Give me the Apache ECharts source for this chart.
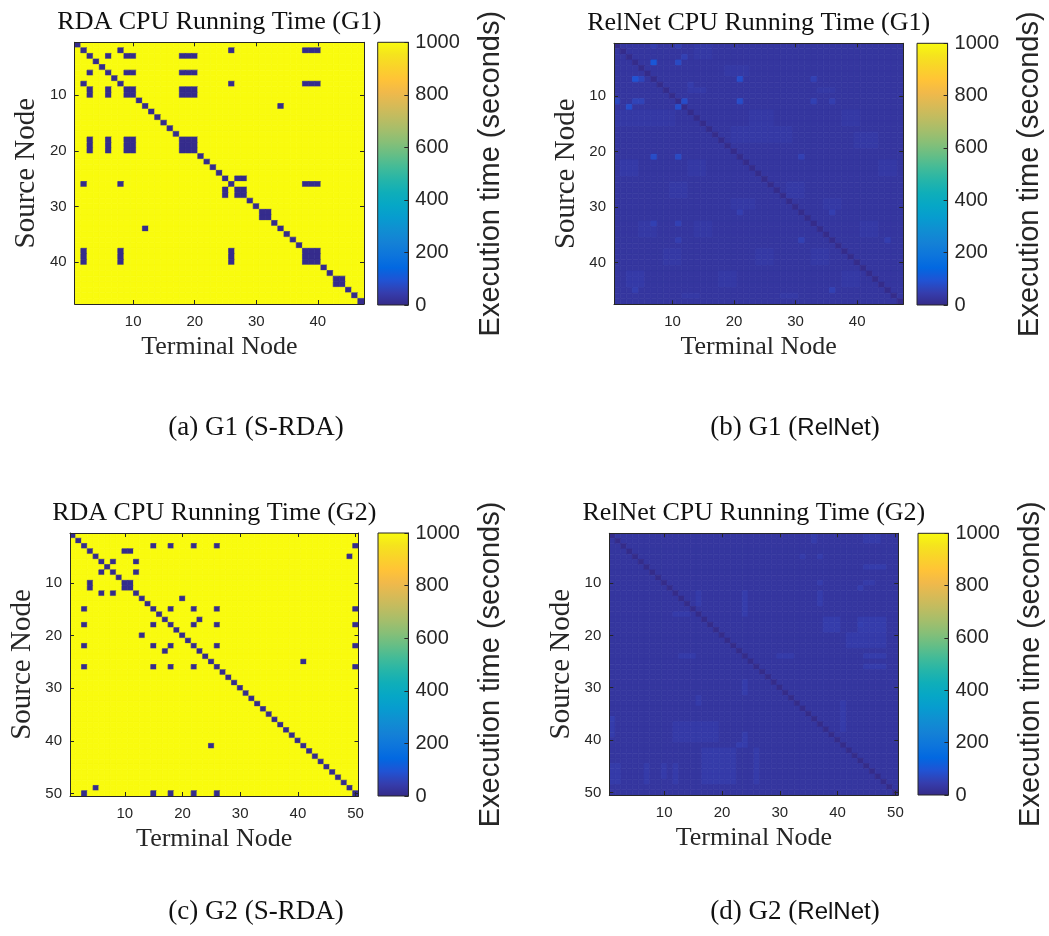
<!DOCTYPE html>
<html>
<head>
<meta charset="utf-8">
<script src="https://cdn.jsdelivr.net/npm/echarts@6/dist/echarts.min.js"></script>
<style>
  html, body { margin: 0; padding: 0; background: #ffffff; }
  #chart { width: 1049px; height: 936px; }
</style>
</head>
<body>
<div id="chart"></div>
<script>
// ---------------- data ----------------
const g1Nodes = 47;
const g2Nodes = 50;

// S-RDA: pairs either finish quickly or hit the 1000 s cap
const rdaTimeout = 1000;
const rdaFast = 6;
// node sets whose source/terminal pairs all finish quickly
const rdaG1FastGroups = [[2, 8, 26, 38, 39, 40], [3, 6, 9, 10, 18, 19, 20], [25, 27, 28], [12, 34], [31, 32], [43, 44]];
const rdaG2FastGroups = [[3, 15, 18, 22, 26, 50], [6, 8, 12], [4, 10, 11], [13, 20], [17, 23], [25, 41], [5, 49]];

// RelNet: typical time, time on the diagonal, slower blocks and single slow pairs
const relG1Base = 30;
const relG1Diag = 5;
// [rowFrom, rowTo, colFrom, colTo, seconds]
const relG1Blocks = [
  [1, 3, 14, 16, 38], [5, 6, 19, 22, 38], [9, 9, 13, 15, 40], [9, 9, 34, 36, 38],
  [13, 15, 1, 10, 38], [13, 15, 23, 26, 38], [13, 15, 38, 40, 38],
  [16, 18, 20, 29, 38], [17, 19, 40, 43, 38],
  [22, 24, 2, 4, 40], [22, 24, 13, 15, 38], [22, 24, 44, 46, 38],
  [26, 28, 10, 12, 38], [26, 28, 29, 31, 38], [29, 30, 20, 23, 38], [29, 30, 35, 37, 38],
  [33, 35, 5, 7, 38], [33, 35, 14, 16, 38], [33, 35, 41, 43, 38],
  [38, 40, 9, 11, 38], [38, 40, 24, 26, 38], [38, 40, 33, 35, 38],
  [42, 44, 3, 5, 40], [42, 44, 18, 20, 38], [42, 44, 38, 40, 38],
  [46, 46, 12, 14, 38], [46, 46, 28, 30, 38]
];
// [row, col, seconds]
const relG1Spots = [
  [4, 7, 105], [4, 11, 75], [1, 11, 50], [1, 7, 48], [3, 12, 55], [7, 4, 95], [7, 5, 65], [7, 21, 85],
  [7, 33, 55], [11, 1, 70], [11, 4, 60], [11, 5, 60], [11, 12, 80], [11, 21, 80], [11, 33, 55],
  [11, 36, 50], [12, 3, 85], [12, 11, 85], [21, 7, 80], [21, 11, 75], [21, 31, 55], [31, 21, 50],
  [31, 36, 50], [33, 7, 55], [33, 11, 55], [36, 11, 50], [36, 31, 55], [36, 45, 50], [45, 4, 50],
  [45, 36, 55], [8, 13, 45]
];

const relG2Base = 30;
const relG2Diag = 4;
const relG2Blocks = [
  [1, 2, 36, 36, 45], [1, 2, 45, 47, 42], [5, 5, 34, 34, 42], [5, 5, 37, 37, 45], [7, 7, 45, 48, 45],
  [10, 10, 37, 37, 45], [10, 10, 45, 46, 42], [12, 14, 37, 37, 45], [12, 14, 16, 16, 42],
  [12, 16, 24, 24, 45], [16, 16, 12, 14, 42], [17, 19, 38, 40, 45], [17, 19, 44, 48, 45],
  [20, 22, 42, 48, 42], [24, 24, 13, 15, 42], [24, 24, 30, 32, 42], [24, 24, 45, 48, 45],
  [26, 26, 45, 48, 45], [29, 31, 24, 24, 45], [32, 33, 16, 16, 42], [37, 40, 12, 19, 40],
  [39, 41, 24, 24, 45], [33, 38, 41, 41, 42], [42, 48, 17, 22, 42], [45, 48, 7, 7, 42],
  [45, 47, 10, 10, 42], [45, 48, 12, 12, 42], [42, 48, 26, 26, 42], [37, 39, 1, 1, 45],
  [45, 48, 1, 2, 42]
];
const relG2Spots = [[36, 1, 50], [41, 23, 48], [11, 44, 48], [18, 44, 50]];

const colorbarTicks = [0, 200, 400, 600, 800, 1000];

// ---------------- matrices ----------------
function rdaMatrix(n, groups) {
  const m = Array.from({ length: n }, () => Array(n).fill(rdaTimeout));
  for (let i = 0; i < n; i++) m[i][i] = rdaFast;
  groups.forEach(g => g.forEach(r => g.forEach(c => { m[r - 1][c - 1] = rdaFast; })));
  return m;
}
function relMatrix(n, base, diag, blocks, spots) {
  const m = Array.from({ length: n }, () => Array(n).fill(base));
  blocks.forEach(([r0, r1, c0, c1, v]) => {
    for (let r = r0; r <= r1; r++) for (let c = c0; c <= c1; c++) m[r - 1][c - 1] = v;
  });
  spots.forEach(([r, c, v]) => { m[r - 1][c - 1] = v; });
  for (let i = 0; i < n; i++) m[i][i] = diag;
  return m;
}
function cells(m) {
  const out = [];
  m.forEach((row, r) => row.forEach((v, c) => out.push([c, r, v])));
  return out;
}

// ---------------- styling ----------------
const parula = ['#352A87', '#353DAD', '#2053D4', '#0268E1', '#0D75DC', '#1481D6', '#108ED2', '#079CCF',
  '#06A7C6', '#0FAEB9', '#25B5A9', '#42BB98', '#65BE86', '#87BF77', '#A5BE6B', '#C0BC60', '#D9BA56',
  '#F1B94A', '#FFC337', '#FAD32A', '#F5E41D', '#F9FB0E'];
const AX = '#262626';
const SERIF = '"Liberation Serif", "Times New Roman", serif';
const SANS = '"Liberation Sans", Arial, sans-serif';

const panels = [
  { n: g1Nodes, m: rdaMatrix(g1Nodes, rdaG1FastGroups), title: 'RDA CPU Running Time (G1)',
    plot: { left: 74.7, top: 42.3, width: 289.3, height: 261.7 },
    cb: { left: 377.7, top: 42.3, width: 30.6, height: 262.7 },
    caption: { x: 256, y: 428, tag: '(a) G1 (', name: 'S-RDA', sf: false } },
  { n: g1Nodes, m: relMatrix(g1Nodes, relG1Base, relG1Diag, relG1Blocks, relG1Spots), title: 'RelNet CPU Running Time (G1)',
    plot: { left: 614, top: 43.3, width: 289.3, height: 261 },
    cb: { left: 917, top: 43.3, width: 30.6, height: 261.7 },
    caption: { x: 795, y: 428, tag: '(b) G1 (', name: 'RelNet', sf: true } },
  { n: g2Nodes, m: rdaMatrix(g2Nodes, rdaG2FastGroups), title: 'RDA CPU Running Time (G2)',
    plot: { left: 70, top: 533, width: 288.5, height: 263 },
    cb: { left: 378, top: 533, width: 30.4, height: 263 },
    caption: { x: 256, y: 912, tag: '(c) G2 (', name: 'S-RDA', sf: false } },
  { n: g2Nodes, m: relMatrix(g2Nodes, relG2Base, relG2Diag, relG2Blocks, relG2Spots), title: 'RelNet CPU Running Time (G2)',
    plot: { left: 609.3, top: 533.3, width: 289, height: 261.7 },
    cb: { left: 918, top: 533.3, width: 30.4, height: 261.7 },
    caption: { x: 795, y: 912, tag: '(d) G2 (', name: 'RelNet', sf: true } }
];

const option = {
  animation: false,
  backgroundColor: '#ffffff',
  grid: [], xAxis: [], yAxis: [], series: [], visualMap: [], graphic: []
};

const tickEvery10 = idx => (idx + 1) % 10 === 0;

// one image cell per data item, edges stroked in the cell colour so neighbours join seamlessly
function renderCell(params, api) {
  const p = api.coord([api.value(0), api.value(1)]);
  const s = api.size([1, 1]);
  const w = Math.abs(s[0]), h = Math.abs(s[1]);
  const col = api.visual('color');
  return {
    type: 'rect',
    shape: { x: p[0] - w / 2, y: p[1] - h / 2, width: w, height: h },
    style: { fill: col, stroke: col, lineWidth: 0.7 }
  };
}

panels.forEach((p) => {
  const cats = Array.from({ length: p.n }, (_, i) => String(i + 1));
  const gi = option.grid.length;
  option.grid.push({ left: p.plot.left, top: p.plot.top, width: p.plot.width, height: p.plot.height });
  option.grid.push({ left: p.cb.left, top: p.cb.top, width: p.cb.width, height: p.cb.height });

  const catAxis = (pos, labels) => ({
    type: 'category', gridIndex: gi, data: cats, position: pos, boundaryGap: true,
    inverse: pos === 'left' || pos === 'right',
    z: 5,
    axisLine: { show: true, onZero: false, lineStyle: { color: AX, width: 1 } },
    axisTick: { show: true, inside: true, length: 4, alignWithLabel: true, interval: tickEvery10, lineStyle: { color: AX } },
    axisLabel: labels ? { show: true, interval: tickEvery10, color: AX, fontFamily: SANS, fontSize: 15,
      margin: (pos === 'bottom') ? 10 : 8 } : { show: false },
    splitLine: { show: false }
  });

  const xi = option.xAxis.length;
  option.xAxis.push(catAxis('bottom', true));
  option.xAxis.push(catAxis('top', false));
  option.xAxis.push({ type: 'value', gridIndex: gi + 1, min: 0, max: 1, show: false });

  const yi = option.yAxis.length;
  option.yAxis.push(catAxis('left', true));
  option.yAxis.push(catAxis('right', false));
  option.yAxis.push({
    type: 'value', gridIndex: gi + 1, min: colorbarTicks[0], max: colorbarTicks[colorbarTicks.length - 1],
    interval: colorbarTicks[1] - colorbarTicks[0], position: 'right', z: 5,
    axisLine: { show: true, onZero: false, lineStyle: { color: AX, width: 1 } },
    axisTick: { show: true, inside: true, length: 4, lineStyle: { color: AX } },
    axisLabel: { color: AX, fontFamily: SANS, fontSize: 20, margin: 7, formatter: v => String(v) },
    splitLine: { show: false }
  });

  const si = option.series.length;
  option.series.push({
    type: 'custom', xAxisIndex: xi, yAxisIndex: yi, data: cells(p.m),
    encode: { x: 0, y: 1 }, renderItem: renderCell, clip: true, silent: true, progressive: 0
  });
  option.visualMap.push({
    type: 'continuous', show: false, min: 0, max: 1000, dimension: 2, seriesIndex: si,
    inRange: { color: parula }
  });
  option.series.push({
    type: 'custom', xAxisIndex: xi + 2, yAxisIndex: yi + 2, data: [[0, 0]], silent: true,
    renderItem: (params, api) => {
      const top = api.coord([0, colorbarTicks[colorbarTicks.length - 1]]);
      const bot = api.coord([1, colorbarTicks[0]]);
      return {
        type: 'rect',
        shape: { x: top[0], y: top[1], width: bot[0] - top[0], height: bot[1] - top[1] },
        style: {
          fill: new echarts.graphic.LinearGradient(0, 1, 0, 0,
            parula.map((c, i) => ({ offset: i / (parula.length - 1), color: c }))),
          stroke: AX, lineWidth: 1
        }
      };
    }
  });

  const cx = p.plot.left + p.plot.width / 2;
  const cy = p.plot.top + p.plot.height / 2;
  const bottom = p.plot.top + p.plot.height;
  option.graphic.push(
    { type: 'text', x: cx, y: p.plot.top - 20, silent: true,
      style: { text: p.title, fill: '#111', fontFamily: SERIF, fontSize: 26, align: 'center', verticalAlign: 'middle' } },
    { type: 'text', x: cx, y: bottom + 43, silent: true,
      style: { text: 'Terminal Node', fill: '#262626', fontFamily: SERIF, fontSize: 26, align: 'center', verticalAlign: 'middle' } },
    { type: 'text', x: p.plot.left - 48, y: cy, rotation: Math.PI / 2, silent: true,
      style: { text: 'Source Node', fill: '#262626', fontFamily: SERIF, fontSize: 29, align: 'center', verticalAlign: 'middle' } },
    { type: 'text', x: p.cb.left + 113, y: p.cb.top + p.cb.height / 2, rotation: Math.PI / 2, silent: true,
      style: { text: 'Execution time (seconds)', fill: '#262626', fontFamily: SANS, fontSize: 29, align: 'center', verticalAlign: 'middle' } },
    { type: 'text', x: p.caption.x, y: p.caption.y, silent: true,
      style: {
        text: '{s|' + p.caption.tag + '}{' + (p.caption.sf ? 'f' : 's') + '|' + p.caption.name + '}{s|)}',
        align: 'center', verticalAlign: 'middle',
        rich: {
          s: { fontFamily: SERIF, fontSize: 27, fill: '#111' },
          f: { fontFamily: SANS, fontSize: 24, fill: '#111' }
        }
      } }
  );
});

const chart = echarts.init(document.getElementById('chart'), null, { renderer: 'canvas' });
chart.setOption(option);
</script>
</body>
</html>
